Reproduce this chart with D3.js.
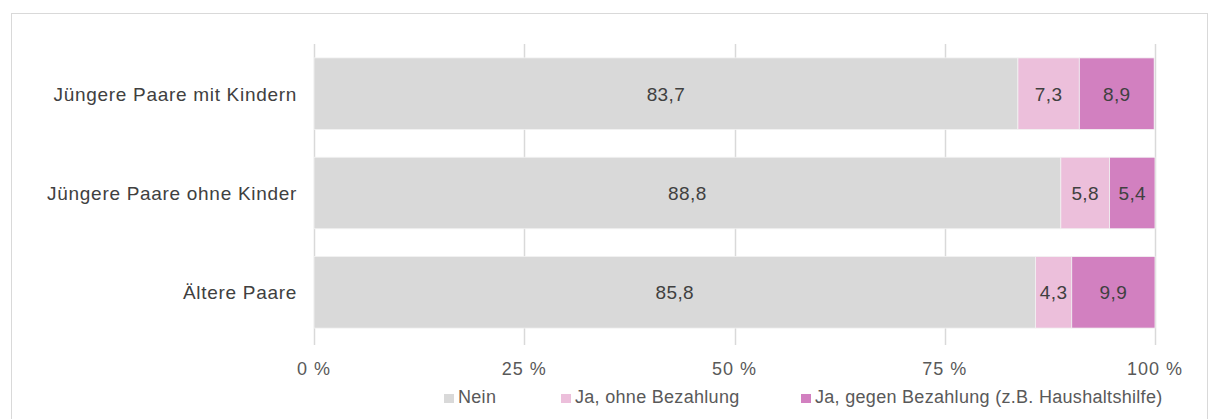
<!DOCTYPE html>
<html>
<head>
<meta charset="utf-8">
<script src="https://cdn.jsdelivr.net/npm/d3@7"></script>
<style>
  body { margin: 0; background: #fff; }
  text { font-family: "Liberation Sans", Arial, sans-serif; }
</style>
</head>
<body>
<script>
var width = 1209,
    height = 419;

var categories = ["Jüngere Paare mit Kindern", "Jüngere Paare ohne Kinder", "Ältere Paare"];
var seriesNames = ["Nein", "Ja, ohne Bezahlung", "Ja, gegen Bezahlung (z.B. Haushaltshilfe)"];
var nein = [83.7, 88.8, 85.8];
var ohne = [7.3, 5.8, 4.3];
var gegen = [8.9, 5.4, 9.9];
var ticks = [0, 25, 50, 75, 100];
var colors = ["#d9d9d9", "#ecbfdb", "#d280c0"];

var svg = d3.select("body").append("svg")
    .attr("width", width)
    .attr("height", height);

// chart frame
svg.append("rect")
    .attr("x", 11.5).attr("y", 13.5)
    .attr("width", 1196).attr("height", 420)
    .attr("fill", "none")
    .attr("stroke", "#d9d9d9");

var x = d3.scaleLinear().domain([0, 100]).range([314, 1155]);
var y = d3.scaleBand().domain(categories).range([44, 342]).paddingInner(0.28).paddingOuter(0.14);

// gridlines
svg.append("g").selectAll("line")
    .data(ticks)
  .enter().append("line")
    .attr("x1", function(d) { return Math.round(x(d)) + 0.5; })
    .attr("x2", function(d) { return Math.round(x(d)) + 0.5; })
    .attr("y1", 44)
    .attr("y2", 345)
    .attr("stroke", "#d9d9d9")
    .attr("stroke-width", 1.5);

var rows = categories.map(function(c, i) {
  return { cat: c, Nein: nein[i], ohne: ohne[i], gegen: gegen[i] };
});
var stack = d3.stack().keys(["Nein", "ohne", "gegen"])(rows);

var layers = svg.append("g").selectAll("g")
    .data(stack)
  .enter().append("g")
    .attr("fill", function(d, i) { return colors[i]; });

layers.selectAll("rect")
    .data(function(d) { return d; })
  .enter().append("rect")
    .attr("x", function(d) { return x(d[0]); })
    .attr("y", function(d) { return y(d.data.cat); })
    .attr("width", function(d) { return x(d[1]) - x(d[0]); })
    .attr("height", y.bandwidth())
    .attr("stroke", "#f2f2f2")
    .attr("stroke-width", 0.8);

layers.selectAll("text")
    .data(function(d) { return d; })
  .enter().append("text")
    .attr("x", function(d) { return (x(d[0]) + x(d[1])) / 2; })
    .attr("y", function(d) { return y(d.data.cat) + y.bandwidth() / 2; })
    .attr("dy", "0.36em")
    .attr("text-anchor", "middle")
    .attr("fill", "#404040")
    .style("font-size", "19px")
    .style("letter-spacing", "0.4px")
    .text(function(d) { return d3.format(".1f")(d[1] - d[0]).replace(".", ","); });

// category labels
svg.append("g").selectAll("text")
    .data(categories)
  .enter().append("text")
    .attr("x", 297)
    .attr("y", function(d) { return y(d) + y.bandwidth() / 2; })
    .attr("dy", "0.36em")
    .attr("text-anchor", "end")
    .attr("fill", "#404040")
    .style("font-size", "19px")
    .style("letter-spacing", "0.7px")
    .text(function(d) { return d; });

// x tick labels
svg.append("g").selectAll("text")
    .data(ticks)
  .enter().append("text")
    .attr("x", function(d) { return x(d); })
    .attr("y", 375)
    .attr("text-anchor", "middle")
    .attr("fill", "#595959")
    .style("font-size", "18px")
    .style("letter-spacing", "1px")
    .text(function(d) { return d + " %"; });

// legend
var legendX = [444, 561, 801];
var legend = svg.append("g").selectAll("g")
    .data(seriesNames)
  .enter().append("g")
    .attr("transform", function(d, i) { return "translate(" + legendX[i] + ",397)"; });

legend.append("rect")
    .attr("x", 0).attr("y", -3)
    .attr("width", 10).attr("height", 9)
    .attr("fill", function(d, i) { return colors[i]; });

legend.append("text")
    .attr("x", 14)
    .attr("y", 6)
    .attr("fill", "#595959")
    .style("font-size", "18px")
    .style("letter-spacing", "0.3px")
    .text(function(d) { return d; });
</script>
</body>
</html>
